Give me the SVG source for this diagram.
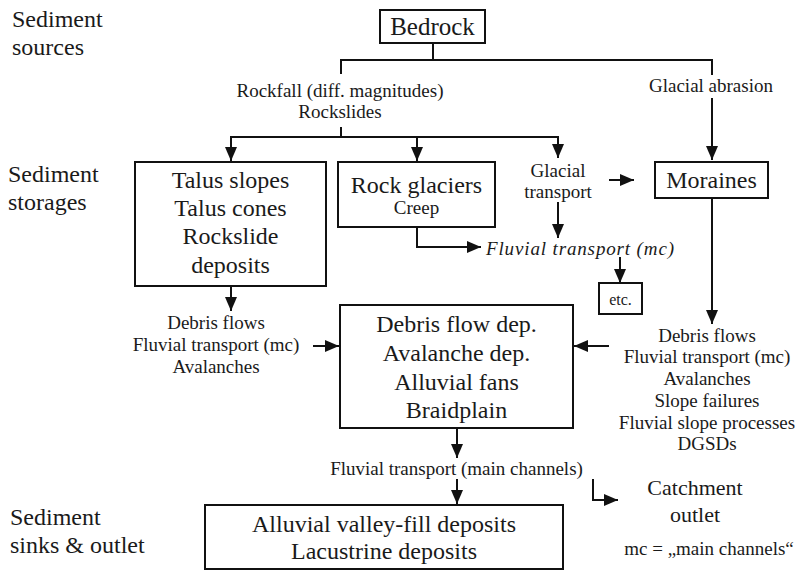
<svg xmlns="http://www.w3.org/2000/svg" width="798" height="579" viewBox="0 0 798 579">
<defs>
<marker id="ah" markerUnits="userSpaceOnUse" markerWidth="16" markerHeight="14" refX="14" refY="6" orient="auto">
<path d="M0,0 L14,6 L0,12 Z" fill="#111"/>
</marker>
<style>
text{font-family:"Liberation Serif","Times New Roman",serif;fill:#1a1a1a;text-anchor:middle}
.lbl{text-anchor:start;font-size:24px}
.big{font-size:24px}
.med{font-size:19px}
.ital{font-style:italic;text-anchor:start;font-size:19px}
rect{fill:#fff;stroke:#111;stroke-width:2}
.c path,.c line{fill:none;stroke:#111;stroke-width:2}
.arr{marker-end:url(#ah)}
</style>
</defs>
<rect x="0" y="0" width="798" height="579" style="fill:#fff;stroke:none"/>

<g id="labels">
<text class="lbl" x="12" y="27">Sediment</text>
<text class="lbl" x="12" y="55">sources</text>
<text class="lbl" x="8" y="182">Sediment</text>
<text class="lbl" x="8" y="210">storages</text>
<text class="lbl" x="10" y="525">Sediment</text>
<text class="lbl" x="10" y="553">sinks &amp; outlet</text>
</g>

<g class="c" id="connectors">
<line x1="433" y1="43" x2="433" y2="60"/>
<line x1="341" y1="60" x2="712" y2="60"/>
<line x1="341" y1="59" x2="341" y2="74"/>
<line x1="712" y1="59" x2="712" y2="75"/>
<line x1="341" y1="127" x2="341" y2="137"/>
<line x1="230" y1="137" x2="559" y2="137"/>
<line class="arr" x1="231" y1="136" x2="231" y2="161"/>
<line class="arr" x1="417" y1="136" x2="417" y2="161"/>
<line class="arr" x1="558" y1="136" x2="558" y2="158"/>
<line class="arr" x1="712" y1="98" x2="712" y2="160"/>
<line class="arr" x1="609" y1="180" x2="634" y2="180"/>
<line class="arr" x1="558" y1="202" x2="558" y2="238"/>
<path class="arr" d="M417,227 V247 H481"/>
<line class="arr" x1="620" y1="257" x2="620" y2="283"/>
<line class="arr" x1="231" y1="286" x2="231" y2="311"/>
<line class="arr" x1="712" y1="198" x2="712" y2="324"/>
<line class="arr" x1="313" y1="346" x2="339" y2="346"/>
<line class="arr" x1="609" y1="346" x2="574" y2="346"/>
<line class="arr" x1="457" y1="428" x2="457" y2="458"/>
<line class="arr" x1="457" y1="479" x2="457" y2="504"/>
<path class="arr" d="M593,479 V500 H618"/>
</g>

<g id="bedrock">
<rect x="380" y="10" width="105" height="33"/>
<text class="big" x="432.5" y="35" style="font-size:25px">Bedrock</text>
</g>

<g id="rockfall-label">
<text class="med" x="340" y="97">Rockfall (diff. magnitudes)</text>
<text class="med" x="340" y="118">Rockslides</text>
</g>

<g id="glacial-abrasion">
<text class="med" x="711" y="92">Glacial abrasion</text>
</g>

<g id="talus">
<rect x="135" y="162" width="191" height="124"/>
<text class="big" x="230.5" y="188">Talus slopes</text>
<text class="big" x="230.5" y="216">Talus cones</text>
<text class="big" x="230.5" y="244">Rockslide</text>
<text class="big" x="230.5" y="273">deposits</text>
</g>

<g id="rock-glaciers">
<rect x="338" y="162" width="157" height="65"/>
<text class="big" x="416.5" y="193">Rock glaciers</text>
<text class="med" x="416.5" y="214">Creep</text>
</g>

<g id="glacial-transport">
<text class="med" x="558" y="177">Glacial</text>
<text class="med" x="558" y="198">transport</text>
</g>

<g id="moraines">
<rect x="655" y="162" width="113" height="36"/>
<text class="big" x="711.5" y="188">Moraines</text>
</g>

<g id="fluvial-mc">
<text class="ital" x="486" y="255" textLength="188" lengthAdjust="spacing">Fluvial transport (mc)</text>
</g>

<g id="etc">
<rect x="599" y="283" width="43" height="31"/>
<text x="620.5" y="305" style="font-size:16px">etc.</text>
</g>

<g id="left-processes">
<text class="med" x="216" y="329">Debris flows</text>
<text class="med" x="216" y="351">Fluvial transport (mc)</text>
<text class="med" x="216" y="373">Avalanches</text>
</g>

<g id="debris-box">
<rect x="340" y="305" width="233" height="123"/>
<text class="big" x="456.5" y="332">Debris flow dep.</text>
<text class="big" x="456.5" y="361">Avalanche dep.</text>
<text class="big" x="456.5" y="390">Alluvial fans</text>
<text class="big" x="456.5" y="418">Braidplain</text>
</g>

<g id="right-processes">
<text class="med" x="707" y="342">Debris flows</text>
<text class="med" x="707" y="363">Fluvial transport (mc)</text>
<text class="med" x="707" y="385">Avalanches</text>
<text class="med" x="707" y="407">Slope failures</text>
<text class="med" x="707" y="429">Fluvial slope processes</text>
<text class="med" x="707" y="450">DGSDs</text>
</g>

<g id="main-channels">
<text class="med" x="456.5" y="475">Fluvial transport (main channels)</text>
</g>

<g id="sinks">
<rect x="205" y="505" width="358" height="64"/>
<text class="big" x="384" y="532">Alluvial valley-fill deposits</text>
<text class="big" x="384" y="559">Lacustrine deposits</text>
</g>

<g id="catchment">
<text x="695" y="495" style="font-size:22px">Catchment</text>
<text x="695" y="522" style="font-size:22px">outlet</text>
</g>

<g id="legend">
<text class="med" x="709" y="555">mc = „main channels“</text>
</g>
</svg>
